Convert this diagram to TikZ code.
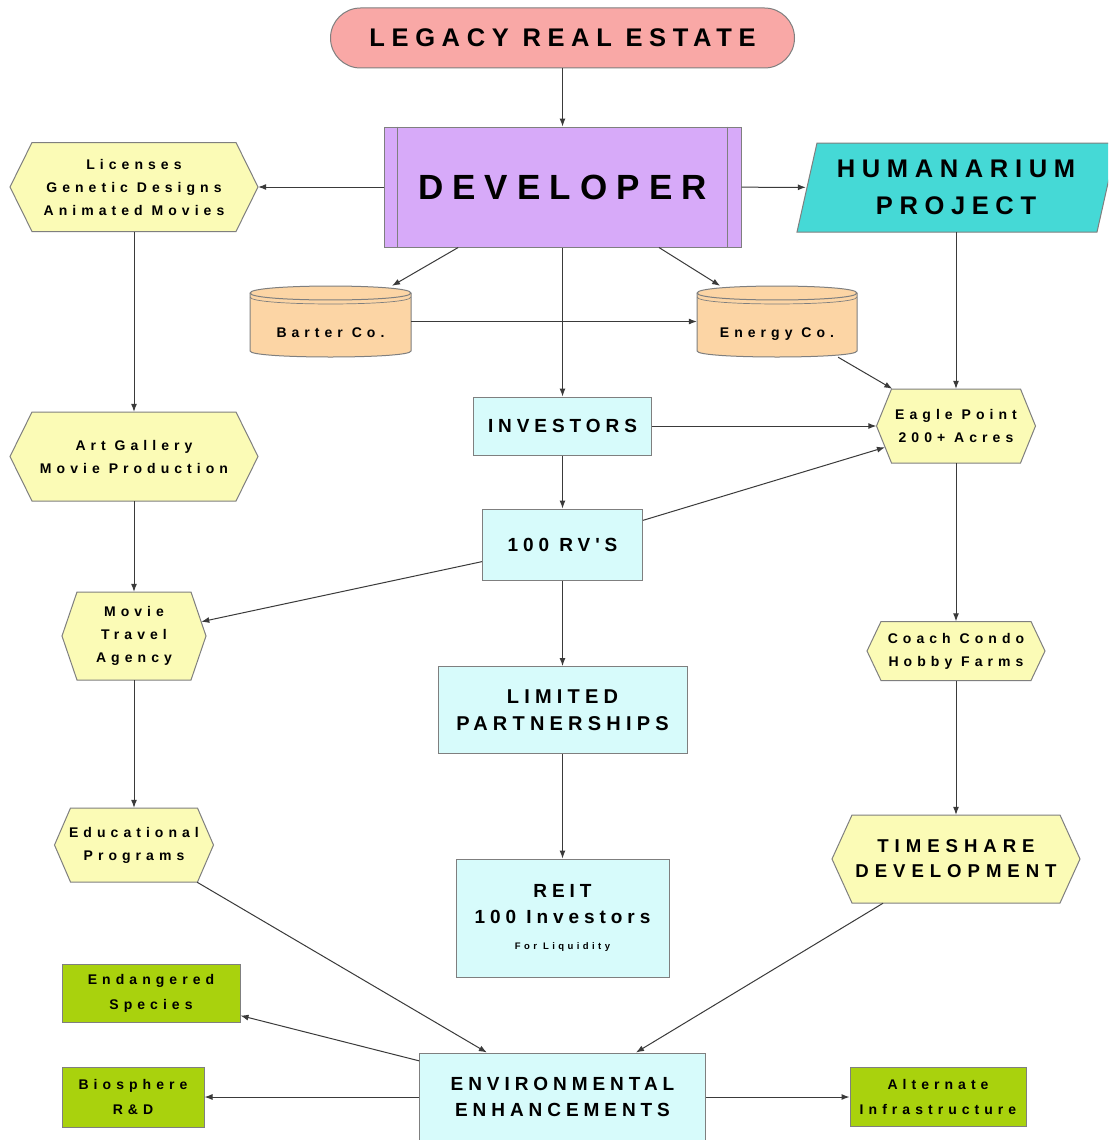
\documentclass[tikz,border=0pt]{standalone}
\usepackage{fontspec}
\setmainfont{Liberation Sans}
\newfontfamily\wideA[LetterSpace=26]{Liberation Sans}
\newfontfamily\wideB[LetterSpace=36]{Liberation Sans}
\newfontfamily\wideC[LetterSpace=32]{Liberation Sans}
\usetikzlibrary{arrows.meta}
\definecolor{legacyfill}{HTML}{F9A8A6}
\definecolor{devfill}{HTML}{D7AAF9}
\definecolor{humfill}{HTML}{45D9D6}
\definecolor{hexfill}{HTML}{FBFBB6}
\definecolor{cylfill}{HTML}{FCD5A5}
\definecolor{boxfill}{HTML}{D7FBFB}
\definecolor{greenfill}{HTML}{A9D20D}
\definecolor{borderc}{HTML}{7F7F7F}
\definecolor{linec}{HTML}{3A3A3A}
\tikzset{
  conn/.style={draw=linec, line width=1pt, -{Latex[length=8pt,width=6pt]}},
  bord/.style={draw=borderc, line width=1pt},
  bigtxt/.style={font=\wideA\bfseries\fontsize{19}{26}\selectfont, align=center},
  smalltxt/.style={font=\wideB\bfseries\fontsize{14}{23}\selectfont, align=center},
  cbox/.style={bord, fill=boxfill, rectangle, inner sep=0pt},
  gbox/.style={bord, fill=greenfill, rectangle, inner sep=0pt, smalltxt, font=\wideB\bfseries\fontsize{14}{25}\selectfont},
  hexshape/.style={bord, fill=hexfill},
  hextext/.style={rectangle, inner sep=0pt, smalltxt},
}
% #1 options, #2 name, #3 cx, #4 cy, #5 half width, #6 half height, #7 point depth, #8 text
\newcommand\hexnode[8][]{%
  \path[hexshape] ({#3-#5},#4) -- ({#3-#5+#7},{#4-#6}) -- ({#3+#5-#7},{#4-#6})
    -- ({#3+#5},#4) -- ({#3+#5-#7},{#4+#6}) -- ({#3-#5+#7},{#4+#6}) -- cycle;
  \node[hextext,#1, minimum width={2*#5}, minimum height={2*#6}] (#2) at (#3,#4) {#8};}
% #1 name, #2 x1, #3 x2, #4 ytop, #5 ybot, #6 text
\newcommand\cylnode[6]{%
  \path[bord, fill=cylfill] (#2,{#4+7}) -- (#2,{#5-6})
    .. controls (#2,{#5+2}) and (#3,{#5+2}) .. (#3,{#5-6})
    -- (#3,{#4+7}) .. controls (#3,{#4-2.3}) and (#2,{#4-2.3}) .. cycle;
  \draw[bord] (#2,{#4+7}) .. controls (#2,{#4+16.3}) and (#3,{#4+16.3}) .. (#3,{#4+7});
  \draw[bord, line width=0.7pt] (#2,{#4+11}) .. controls (#2,{#4+20.3}) and (#3,{#4+20.3}) .. (#3,{#4+11});
  \node[smalltxt, rectangle, inner sep=0pt, minimum width={#3-#2}, minimum height={#5-#4},
    text height=31pt, text depth=0pt] (#1) at ({(#2+#3)/2},{(#4+#5)/2}) {#6};}
\begin{document}
\begin{tikzpicture}[x=1pt,y=-1pt]
\useasboundingbox (0,0) rectangle (1108,1140);
\fill[white] (0,0) rectangle (1108,1140);
\clip (0,0) rectangle (1108,1140);

% top
\node[bord, fill=legacyfill, rounded corners=30pt, minimum width=464, minimum height=60, inner sep=0pt,
  font=\wideA\bfseries\fontsize{25.5}{30}\selectfont] (legacy) at (562.5,38) {LEGACY REAL ESTATE};
\node[bord, fill=devfill, minimum width=357, minimum height=120, inner sep=0pt,
  font=\wideA\bfseries\fontsize{35}{40}\selectfont] (dev) at (562.5,187) {DEVELOPER};
\draw[bord] ([xshift=14pt]dev.north west) -- ([xshift=14pt]dev.south west);
\draw[bord] ([xshift=-14pt]dev.north east) -- ([xshift=-14pt]dev.south east);

\path[bord, fill=humfill] (797,232) -- (817,143) -- (1117,143) -- (1097,232) -- cycle;
\node[rectangle, inner sep=0pt, minimum width=300, minimum height=89, align=center,
  font=\wideA\bfseries\fontsize{25.5}{37}\selectfont] (hum) at (956,187.5) {HUMANARIUM\\PROJECT};

% hexagons
\hexnode{lic}{134}{187}{124}{44.5}{22}{Licenses\\Genetic Designs\\Animated Movies}
\hexnode{art}{134}{456.5}{124}{44.5}{22}{Art Gallery\\Movie Production}
\hexnode{movie}{134}{636}{72}{44}{15}{Movie\\Travel\\Agency}
\hexnode{edu}{134}{845}{79.5}{37}{16}{Educational\\Programs}
\hexnode{eagle}{956}{426}{79.5}{37}{15}{Eagle Point\\200+ Acres}
\hexnode{coach}{956}{651}{89}{29.5}{14}{Coach Condo\\Hobby Farms}
\hexnode[font=\wideC\bfseries\fontsize{18.6}{25}\selectfont]{ts}{956}{859}{124}{44}{20}{TIMESHARE\\DEVELOPMENT}

% cylinders
\cylnode{barter}{250}{411}{286}{357}{Barter Co.}
\cylnode{energy}{697}{857}{286}{357}{Energy Co.}

% centre column
\node[cbox, bigtxt, minimum width=178, minimum height=58] (inv) at (562.5,426) {INVESTORS};
\node[cbox, bigtxt, minimum width=160, minimum height=71] (rvs) at (562.5,544.5) {100 RV'S};
\node[cbox, bigtxt, font=\wideA\bfseries\fontsize{20}{27}\selectfont, minimum width=249, minimum height=87] (lp) at (562.5,710) {LIMITED\\PARTNERSHIPS};
\node[cbox, bigtxt, minimum width=213, minimum height=118] (reit) at (562.5,918) {REIT\\100 Investors\\{\wideB\fontsize{9.5}{26}\selectfont For Liquidity}};
\node[cbox, bigtxt, minimum width=286, minimum height=88] (env) at (562.5,1097) {ENVIRONMENTAL\\ENHANCEMENTS};

% green boxes
\node[gbox, minimum width=178, minimum height=58] (endg) at (151,993) {Endangered\\Species};
\node[gbox, minimum width=142, minimum height=60] (bio) at (133,1097) {Biosphere\\R\&D};
\node[gbox, minimum width=176, minimum height=59] (alt) at (938,1097) {Alternate\\Infrastructure};

% connectors
\draw[conn] (legacy) -- (dev);
\draw[conn] (dev) -- (lic);
\draw[conn] (dev) -- (hum);
\draw[conn] (dev) -- (barter);
\draw[conn] (dev) -- (energy);
\draw[conn] (dev) -- (inv);
\draw[conn] (barter) -- (energy);
\draw[conn] (energy) -- (eagle);
\draw[conn] (hum) -- (eagle);
\draw[conn] (inv) -- (eagle);
\draw[conn, shorten >=-9pt] (rvs) -- (eagle);
\draw[conn] (inv) -- (rvs);
\draw[conn, shorten >=-5pt] (rvs) -- (movie);
\draw[conn] (rvs) -- (lp);
\draw[conn] (lp) -- (reit);
\draw[conn] (lic) -- (art);
\draw[conn] (art) -- (movie);
\draw[conn] (movie) -- (edu);
\draw[conn] (edu) -- (env);
\draw[conn] (eagle) -- (coach);
\draw[conn] (coach) -- (ts);
\draw[conn] (ts) -- (env);
\draw[conn] (env) -- (endg);
\draw[conn] (env) -- (bio);
\draw[conn] (env) -- (alt);
\end{tikzpicture}
\end{document}
